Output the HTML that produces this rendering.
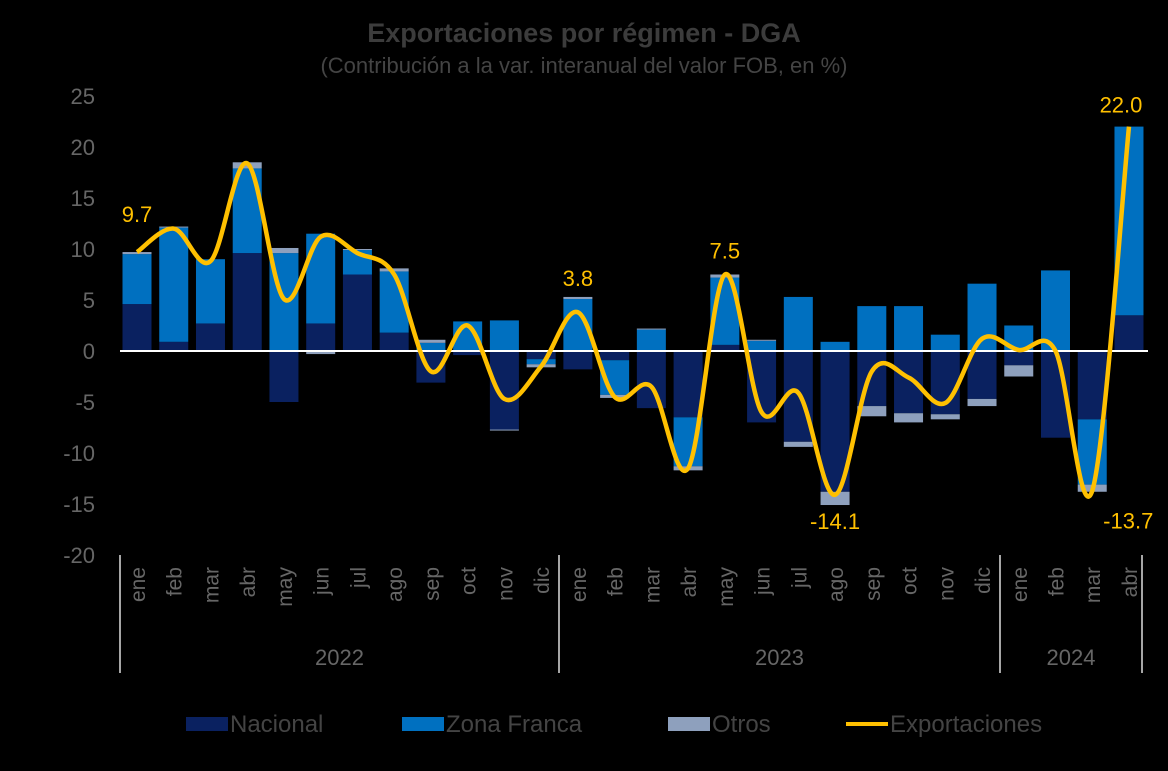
<!DOCTYPE html>
<html><head><meta charset="utf-8"><style>
html,body{margin:0;padding:0;background:#000;}
svg{display:block;font-family:"Liberation Sans",sans-serif;}
</style></head><body>
<svg id="chart" width="1168" height="771" viewBox="0 0 1168 771">
<text x="584" y="42" text-anchor="middle" font-size="27" font-weight="bold" fill="#3c3c3c">Exportaciones por régimen - DGA</text>
<text x="584" y="73" text-anchor="middle" font-size="22" fill="#444">(Contribución a la var. interanual del valor FOB, en %)</text>
<g id="yaxis"></g>
<g id="bars"></g>
<line x1="120" x2="1148" y1="351" y2="351" stroke="#fff" stroke-width="2"/>
<g id="line"></g>
<g id="xaxis"></g>
<g font-size="24" fill="#444">
<rect x="186" y="717" width="42" height="14" fill="#0a2160"/>
<text x="230" y="732">Nacional</text>
<rect x="402" y="717" width="42" height="14" fill="#0070c0"/>
<text x="446" y="732">Zona Franca</text>
<rect x="668" y="717" width="42" height="14" fill="#8ea0bd"/>
<text x="712" y="732">Otros</text>
<line x1="846" x2="888" y1="724" y2="724" stroke="#ffc000" stroke-width="4"/>
<text x="890" y="732">Exportaciones</text>
</g>
</svg>
<script>
const months=["ene","feb","mar","abr","may","jun","jul","ago","sep","oct","nov","dic","ene","feb","mar","abr","may","jun","jul","ago","sep","oct","nov","dic","ene","feb","mar","abr"];
const years=["2022","2023","2024"];
const nacional=[4.6,0.9,2.7,9.6,-5.0,2.7,7.5,1.8,-3.1,-0.4,-7.7,-0.8,-1.8,-0.9,-5.6,-6.5,0.6,-7.0,-8.9,-13.8,-5.4,-6.1,-6.2,-4.7,-1.4,-8.5,-6.7,3.5];
const zonaFranca=[4.9,11.2,6.3,8.3,9.6,8.8,2.4,6.0,0.8,2.9,3.0,-0.5,5.1,-3.4,2.1,-4.8,6.6,1.0,5.3,0.9,4.4,4.4,1.6,6.6,2.5,7.9,-6.4,18.5];
const otros=[0.2,0.1,0.0,0.6,0.5,-0.3,0.1,0.3,0.3,0.0,-0.1,-0.3,0.2,-0.3,0.1,-0.4,0.3,0.1,-0.5,-1.3,-1.0,-0.9,-0.5,-0.7,-1.1,0.0,-0.7,0.0];
const exportaciones=[9.7,12.0,8.8,18.4,5.1,11.2,9.6,7.5,-2.0,2.5,-4.7,-1.5,3.8,-4.5,-3.5,-11.5,7.5,-6.0,-4.1,-14.1,-2.0,-2.6,-5.1,1.2,0.1,0.0,-13.7,22.0];
const labelIdx=[0,12,16,19,26,27];
const yTicks=[25,20,15,10,5,0,-5,-10,-15,-20];
const NS="http://www.w3.org/2000/svg";
const y=v=>351-v*10.2;
const x=i=>137+i*36.74;
function mk(tag,attrs,parent){const e=document.createElementNS(NS,tag);for(const k in attrs)e.setAttribute(k,attrs[k]);parent.appendChild(e);return e;}
const ya=document.getElementById('yaxis');
yTicks.forEach(t=>{const e=mk('text',{x:95,y:y(t)+8,'text-anchor':'end','font-size':22,fill:'#666'},ya);e.textContent=t;

});
const bg=document.getElementById('bars');
const series=[[nacional,'#0a2160','nacional'],[zonaFranca,'#0070c0','zona-franca'],[otros,'#8ea0bd','otros']];
months.forEach((m,i)=>{let pos=0,neg=0;series.forEach(([arr,c,n])=>{const v=arr[i];let a,b;if(v>=0){a=pos;b=pos+v;pos=b;}else{a=neg;b=neg+v;neg=b;}
const r=mk('rect',{x:x(i)-14.5,width:29,y:Math.min(y(a),y(b)),height:Math.abs(y(a)-y(b)),fill:c},bg);

});});
const lg=document.getElementById('line');
const pts=exportaciones.map((v,i)=>[x(i),y(v)]);
let d='M'+pts[0][0]+','+pts[0][1];
for(let i=0;i<pts.length-1;i++){const p0=pts[Math.max(0,i-1)],p1=pts[i],p2=pts[i+1],p3=pts[Math.min(pts.length-1,i+2)];const t=6;
d+=' C'+(p1[0]+(p2[0]-p0[0])/t)+','+(p1[1]+(p2[1]-p0[1])/t)+' '+(p2[0]-(p3[0]-p1[0])/t)+','+(p2[1]-(p3[1]-p1[1])/t)+' '+p2[0]+','+p2[1];}
const pl=mk('path',{d:d,fill:'none',stroke:'#ffc000','stroke-width':4.5,'stroke-linejoin':'round'},lg);


labelIdx.forEach(i=>{const v=exportaciones[i];const neg=v<0;let lx=x(i),ly=neg?y(v)+34:y(v)-16;if(i===0){ly=y(v)-30;}if(i===12){ly=y(v)-26;}if(i===27){lx=x(i)-8;ly=y(v)-14;}if(i===26){lx=x(i)+36;ly=y(v)+38;}
const e=mk('text',{x:lx,y:ly,'text-anchor':'middle','font-size':22,fill:'#ffc000'},lg);e.textContent=v.toFixed(1);

});
const xa=document.getElementById('xaxis');
[120,559,1000,1142].forEach(sx=>{const l=mk('line',{x1:sx,x2:sx,y1:555,y2:673,stroke:'#ddd','stroke-width':1.5},xa);

});
months.forEach((m,i)=>{const e=mk('text',{transform:'translate('+(x(i)+8)+',567) rotate(-90)','text-anchor':'end','font-size':21,fill:'#666'},xa);e.textContent=m;

});
const yc=[339.5,779.5,1071];
years.forEach((yr,k)=>{const e=mk('text',{x:yc[k],y:665,'text-anchor':'middle','font-size':22,fill:'#666'},xa);e.textContent=yr;

});
</script>
</body></html>
